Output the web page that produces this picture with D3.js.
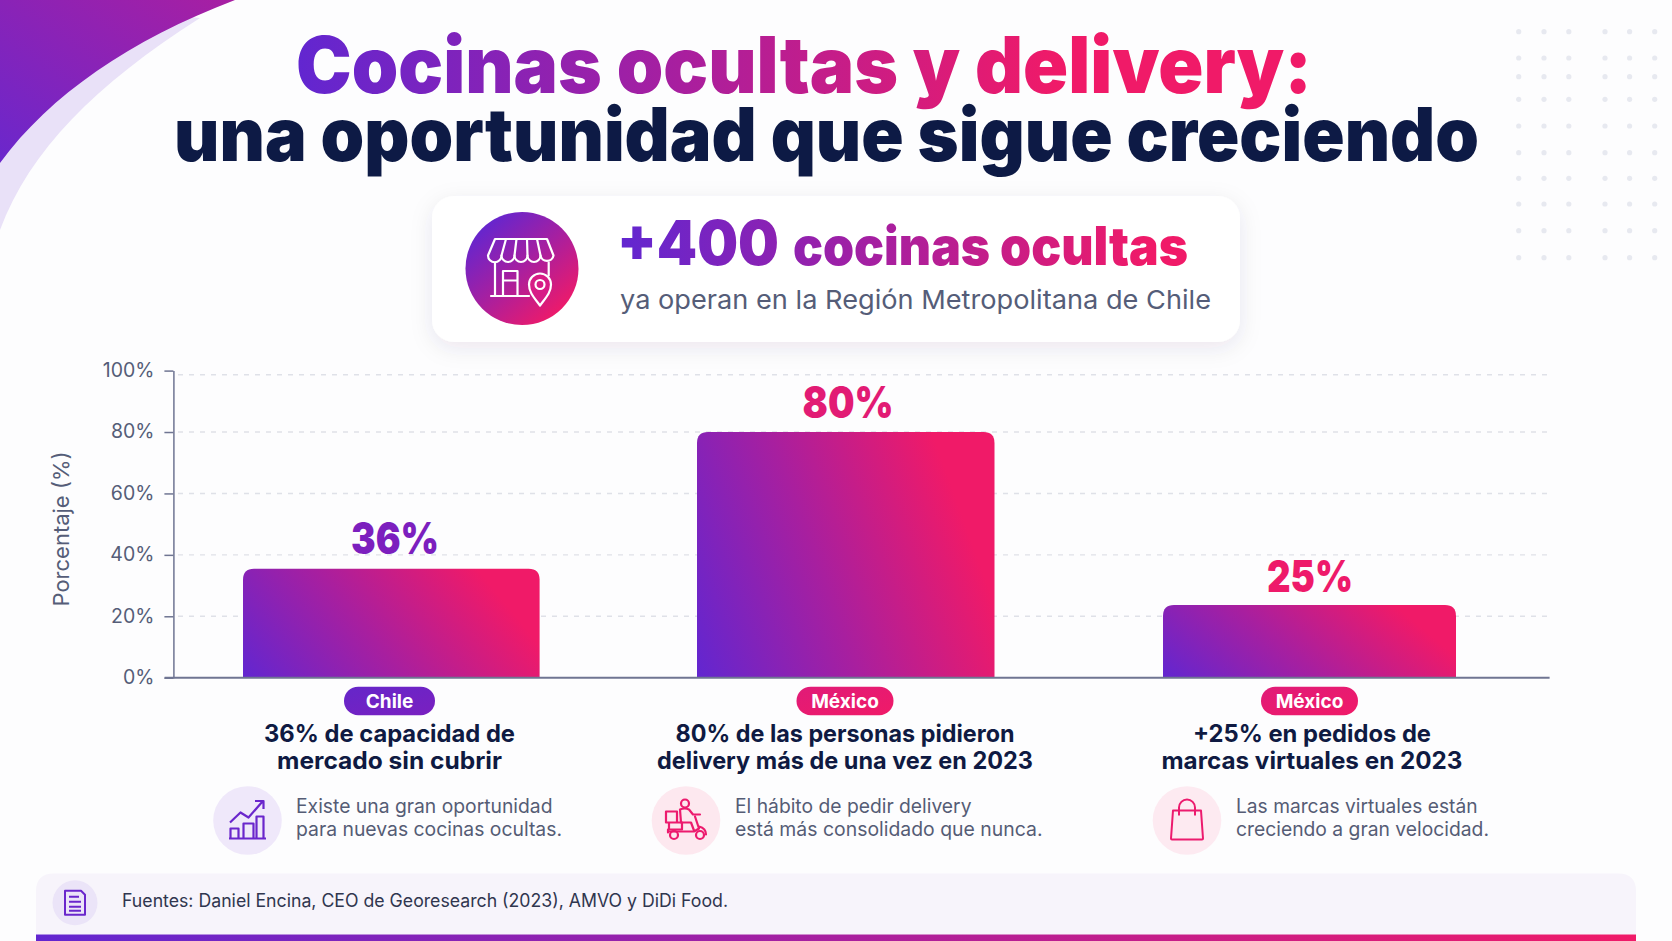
<!DOCTYPE html>
<meta charset="utf-8">
<style>
html, body { margin: 0; background: #fdfdfe; }
svg { display: block; }
text { font-family: Inter, "Noto Sans", sans-serif; }
.tick text { font-size: 19.5px; fill: #555d78; }
.tick line, .axis path { stroke: #6f7592; stroke-width: 1.5px; }
</style>
<svg width="1672" height="941"></svg>
<script src="https://d3js.org/d3.v7.min.js"></script>
<script>
// values
var countries = ['Chile', 'México', 'México'];
var barValues = [35.5, 80, 23.7];
var barLabels = ['36%', '80%', '25%'];
var yTicks = [0, 20, 40, 60, 80, 100];
var headlines = [
  ['36% de capacidad de', 'mercado sin cubrir'],
  ['80% de las personas pidieron', 'delivery más de una vez en 2023'],
  ['+25% en pedidos de', 'marcas virtuales en 2023']
];
var notes = [
  ['Existe una gran oportunidad', 'para nuevas cocinas ocultas.'],
  ['El hábito de pedir delivery', 'está más consolidado que nunca.'],
  ['Las marcas virtuales están', 'creciendo a gran velocidad.']
];

var PURPLE = '#6226d0', MID = '#a81f9f', PINK = '#f01a68';

var svg = d3.select('svg');
var defs = svg.append('defs');

function gradient(id, attrs, stops) {
  var g = defs.append('linearGradient').attr('id', id);
  Object.keys(attrs).forEach(function (k) { g.attr(k, attrs[k]); });
  (stops || [PURPLE, MID, PINK]).forEach(function (c, i, a) {
    g.append('stop').attr('offset', i / (a.length - 1)).attr('stop-color', c);
  });
}

gradient('barGrad', {x1: 0, y1: 1, x2: 1, y2: 0.7});
gradient('circleGrad', {x1: 0.15, y1: 0.1, x2: 0.85, y2: 0.9});
gradient('swoosh', {x1: 0, y1: 1, x2: 1, y2: 0}, ['#6a27cc', '#a81fa2']);
gradient('titleGrad', {gradientUnits: 'userSpaceOnUse', x1: 298, y1: 0, x2: 1060, y2: 0});
gradient('cardGrad', {gradientUnits: 'userSpaceOnUse', x1: 620, y1: 0, x2: 1150, y2: 0});
gradient('stripGrad', {gradientUnits: 'userSpaceOnUse', x1: 36, y1: 0, x2: 1636, y2: 0});
gradient('pillPurple', {x1: 0, y1: 0, x2: 1, y2: 1}, ['#6526c9', '#7a20c0']);
gradient('pillPink', {x1: 0, y1: 0, x2: 1, y2: 1}, ['#e01b78', '#f01a68']);

var shadow = defs.append('filter').attr('id', 'cardShadow')
  .attr('x', '-10%').attr('y', '-20%').attr('width', '120%').attr('height', '150%');
shadow.append('feDropShadow').attr('dx', 0).attr('dy', 6).attr('stdDeviation', 11)
  .attr('flood-color', '#2a2350').attr('flood-opacity', 0.09);

// corner swooshes
svg.append('path').attr('fill', '#e9e1f8')
  .attr('d', 'M200,18 C95,85 30,150 0,230 L0,0 Z');
svg.append('path').attr('fill', 'url(#swoosh)')
  .attr('d', 'M0,0 L235,0 C130,40 50,95 0,163 Z');

// dot pattern, top right
var dotX = [1518.7, 1544, 1568.8, 1605, 1629.6, 1654.7];
var dotY = [31.7, 58, 76.7, 99.3, 126, 152.7, 178.3, 204, 230.7, 257.7];
svg.append('g').selectAll('g').data(dotY).enter().append('g')
  .attr('transform', function (d) { return 'translate(0,' + d + ')'; })
  .selectAll('circle').data(dotX).enter().append('circle')
  .attr('cx', function (d) { return d; })
  .attr('r', 2.6).attr('fill', '#e7e9f0');

// title
function fitted(sel, w) {
  return sel.attr('textLength', w).attr('lengthAdjust', 'spacingAndGlyphs');
}
fitted(svg.append('text').attr('x', 296).attr('y', 92.7)
  .attr('font-size', 78).attr('font-weight', 900).attr('fill', 'url(#titleGrad)')
  .text('Cocinas ocultas y delivery:'), 1016);
fitted(svg.append('text').attr('x', 174).attr('y', 161)
  .attr('font-size', 74).attr('font-weight', 900).attr('fill', '#0d1a45')
  .text('una oportunidad que sigue creciendo'), 1305);

// callout card
svg.append('rect').attr('x', 432).attr('y', 196).attr('width', 808).attr('height', 146)
  .attr('rx', 22).attr('fill', '#fff').attr('filter', 'url(#cardShadow)');
svg.append('circle').attr('cx', 522).attr('cy', 268.5).attr('r', 56.5).attr('fill', 'url(#circleGrad)');

var store = svg.append('g').attr('transform', 'translate(522,268.5)')
  .attr('fill', 'none').attr('stroke', '#fff').attr('stroke-width', 2.2)
  .attr('stroke-linejoin', 'round').attr('stroke-linecap', 'round');
store.append('path').attr('d', 'M-27,-29.5 H25 L31.5,-13 A6.6,6.6 0 0 1 18.5,-13 A6.5,6.5 0 0 1 5.5,-13 A6.5,6.5 0 0 1 -7.5,-13 A6.5,6.5 0 0 1 -20.5,-13 A6.7,6.7 0 0 1 -34,-13 Z');
store.append('path').attr('d', 'M-16,-29.5 L-20.5,-13 M-5.5,-29.5 L-7.5,-13 M5,-29.5 L5.5,-13 M15,-29.5 L18.5,-13');
store.append('path').attr('d', 'M-27,-6 V27.5 M26.7,-6 V7 M-31,27.5 H7');
store.append('path').attr('d', 'M-19,27.5 V2.5 H-4.5 V27.5 M-19,12 H-4.5');
store.append('path').attr('d', 'M18,37 C12,29 7,24 7,16 A11,11 0 0 1 29,16 C29,24 24,29 18,37 Z').attr('fill', '#d71c86');
store.append('circle').attr('cx', 18).attr('cy', 16).attr('r', 4.5);

fitted(svg.append('text').attr('x', 617).attr('y', 265)
  .attr('font-size', 62).attr('font-weight', 900).attr('fill', 'url(#cardGrad)').text('+400'), 162);
fitted(svg.append('text').attr('x', 793).attr('y', 265)
  .attr('font-size', 53).attr('font-weight', 900).attr('fill', 'url(#cardGrad)').text('cocinas ocultas'), 395);
fitted(svg.append('text').attr('x', 620).attr('y', 309)
  .attr('font-size', 26).attr('font-weight', 400).attr('fill', '#555d78')
  .text('ya operan en la Región Metropolitana de Chile'), 591);

// chart
var y = d3.scaleLinear().domain([0, 100]).range([677.7, 370.6]);
var barLeft = d3.scaleOrdinal().domain([0, 1, 2]).range([243, 697, 1163]);
var barWidth = d3.scaleOrdinal().domain([0, 1, 2]).range([296.6, 297.5, 293]);

var grid = svg.append('g').attr('stroke', '#dfe1e8').attr('stroke-width', 1.4).attr('stroke-dasharray', '5 6');
grid.selectAll('line').data(yTicks.slice(1)).enter().append('line')
  .attr('x1', 178).attr('x2', 1549)
  // the top grid line sits a little under its tick in the picture
  .attr('y1', function (d) { return y(d) + (d === 100 ? 4.2 : 0); })
  .attr('y2', function (d) { return y(d) + (d === 100 ? 4.2 : 0); });

function topRounded(x, yTop, w, h, r) {
  return 'M' + x + ',' + (yTop + h) + 'V' + (yTop + r) + 'Q' + x + ',' + yTop + ' ' + (x + r) + ',' + yTop +
    'H' + (x + w - r) + 'Q' + (x + w) + ',' + yTop + ' ' + (x + w) + ',' + (yTop + r) + 'V' + (yTop + h) + 'Z';
}

svg.append('g').selectAll('path').data(barValues).enter().append('path')
  .attr('fill', 'url(#barGrad)')
  .attr('d', function (d, i) {
    return topRounded(barLeft(i), y(d), barWidth(i), y(0) - y(d), 11);
  });

var yAxis = svg.append('g').attr('class', 'axis')
  .attr('transform', 'translate(173.4,0)')
  .call(d3.axisLeft(y).tickValues(yTicks).tickFormat(function (d) { return d + '%'; }).tickSize(9).tickSizeOuter(0).tickPadding(10));
yAxis.selectAll('.tick text').attr('dy', '0.3em');

svg.append('line').attr('x1', 164.6).attr('x2', 1549.6).attr('y1', y(0)).attr('y2', y(0))
  .attr('stroke', '#6f7592').attr('stroke-width', 2);

svg.append('text').attr('transform', 'translate(69,529) rotate(-90)')
  .attr('text-anchor', 'middle').attr('font-size', 22).attr('fill', '#555d78').text('Porcentaje (%)');

var labelFill = ['#7c1fbe', '#e21b74', '#ee1a6a'];
var labelX = [395, 848, 1310], labelY = [554, 418, 592], labelW = [88, 91, 86];
svg.append('g').selectAll('text').data(barLabels).enter().append('text')
  .attr('x', function (d, i) { return labelX[i]; })
  .attr('y', function (d, i) { return labelY[i]; })
  .attr('text-anchor', 'middle').attr('font-size', 44).attr('font-weight', 900)
  .attr('textLength', function (d, i) { return labelW[i]; })
  .attr('lengthAdjust', 'spacingAndGlyphs')
  .attr('fill', function (d, i) { return labelFill[i]; })
  .text(function (d) { return d; });

// country pills
var pill = svg.append('g').selectAll('g').data(countries).enter().append('g');
pill.append('rect')
  .attr('x', function (d, i) { return [344, 796.5, 1261][i]; })
  .attr('y', 686.7).attr('height', 28.5).attr('rx', 14.2)
  .attr('width', function (d, i) { return [91, 97, 97][i]; })
  .attr('fill', function (d) { return d === 'Chile' ? 'url(#pillPurple)' : 'url(#pillPink)'; });
pill.append('text')
  .attr('x', function (d, i) { return [389.5, 845, 1309.5][i]; })
  .attr('y', 707.5).attr('text-anchor', 'middle')
  .attr('font-size', 19).attr('font-weight', 700).attr('fill', '#fff')
  .text(function (d) { return d; });

// headlines under each bar
var headCx = [389.5, 845, 1312];
var headW = [[251, 225], [339, 376], [238, 301]];
headlines.forEach(function (lines, i) {
  lines.forEach(function (t, j) {
    fitted(svg.append('text').attr('x', headCx[i]).attr('y', 741.7 + j * 27)
      .attr('text-anchor', 'middle').attr('font-size', 24).attr('font-weight', 700).attr('fill', '#0f1a42')
      .text(t), headW[i][j]);
  });
});

// notes with their round icons
var noteX = [296, 735, 1236];
var noteW = [[256.5, 266], [236.5, 307.5], [241.5, 253]];
var iconX = [247.5, 686, 1187];
var iconFill = ['#efe8fa', '#fde8ef', '#fdeaf1'];
notes.forEach(function (lines, i) {
  svg.append('circle').attr('cx', iconX[i]).attr('cy', 820.5).attr('r', 34.3).attr('fill', iconFill[i]);
  lines.forEach(function (t, j) {
    fitted(svg.append('text').attr('x', noteX[i]).attr('y', 812.7 + j * 23.3)
      .attr('font-size', 19.5).attr('fill', '#555c75').text(t), noteW[i][j]);
  });
});

var growth = svg.append('g').attr('transform', 'translate(247.5,820.5)')
  .attr('fill', 'none').attr('stroke', '#6a26cc').attr('stroke-width', 2.2).attr('stroke-linejoin', 'round');
growth.append('path').attr('d', 'M-17.5,2 L-7,-8 L1,-3 L15,-19 M7.5,-19.5 H16 V-11.5');
growth.append('path').attr('d', 'M-17,18 V8 H-9 V18 M-4,18 V3 H6 V18 M9,18 V-4 H16 V18 M-18.5,18 H18.5');

var scooter = svg.append('g').attr('transform', 'translate(686,820.5)')
  .attr('fill', 'none').attr('stroke', '#ec1b6e').attr('stroke-width', 2.2)
  .attr('stroke-linejoin', 'round').attr('stroke-linecap', 'round');
scooter.append('circle').attr('cx', -1).attr('cy', -17).attr('r', 4);
scooter.append('path').attr('d', 'M-6,-11 Q-1,-13 3,-11 L7,-6 H14 M-6,-11 L-5,2 H5 L8,10');
scooter.append('path').attr('d', 'M-20,-9 H-9 V2 H-20 Z M-17,2 H-4 V9 H-17 Z');
scooter.append('path').attr('d', 'M-18,12 V9 M-18,11 H8 L13,8 L9,-4 M13,6 C17,7 20,10 20,14');
scooter.append('circle').attr('cx', -12).attr('cy', 14.5).attr('r', 4);
scooter.append('circle').attr('cx', 14).attr('cy', 14.5).attr('r', 4);

var bag = svg.append('g').attr('transform', 'translate(1187,820.5)')
  .attr('fill', 'none').attr('stroke', '#ec1b6e').attr('stroke-width', 2).attr('stroke-linejoin', 'round');
bag.append('path').attr('d', 'M-14,-10 H14 L16,18 Q16,19 15,19 H-15 Q-16,19 -16,18 Z');
bag.append('path').attr('d', 'M-8,-5 V-13 A8,8 0 0 1 8,-13 V-5');

// sources footer
svg.append('path').attr('fill', '#f7f4fb')
  .attr('d', 'M36,934.5 V891 Q36,873.5 54,873.5 H1618 Q1636,873.5 1636,891 V934.5 Z');
svg.append('rect').attr('x', 36).attr('y', 934.5).attr('width', 1600).attr('height', 6.5).attr('fill', 'url(#stripGrad)');
svg.append('circle').attr('cx', 75).attr('cy', 902.8).attr('r', 22.5).attr('fill', '#ebe4f8');
var doc = svg.append('g').attr('transform', 'translate(75,902.8)')
  .attr('fill', 'none').attr('stroke', '#6a26cc').attr('stroke-width', 2).attr('stroke-linejoin', 'round');
doc.append('path').attr('d', 'M-10,-12 H6 L10,-8 V12 H-10 Z');
doc.append('path').attr('d', 'M-6,-6 H4 M-6,-1 H6 M-6,4 H6 M-6,8 H6');
fitted(svg.append('text').attr('x', 122).attr('y', 906.8)
  .attr('font-size', 18).attr('fill', '#30364f')
  .text('Fuentes: Daniel Encina, CEO de Georesearch (2023), AMVO y DiDi Food.'), 606);
</script>
